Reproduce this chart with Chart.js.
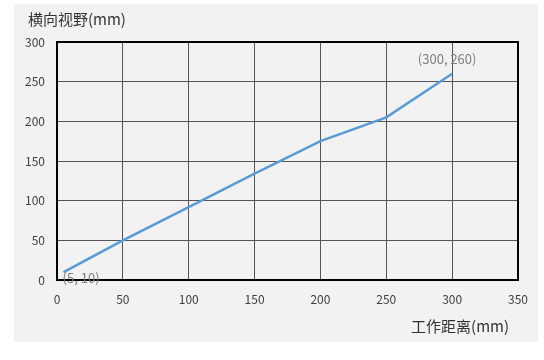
<!DOCTYPE html>
<html>
<head>
<meta charset="utf-8">
<script src="https://cdn.jsdelivr.net/npm/chart.js@4"></script>
<style>
    html, body { margin: 0; padding: 0; background: #ffffff; }
    #wrap { width: 544px; height: 360px; }
</style>
</head>
<body>
<div id="wrap"><canvas id="myChart" width="544" height="360"></canvas></div>
<script>
const ctx = document.querySelector("#myChart").getContext("2d")
const fontFamily = "'Noto Sans CJK SC', 'Noto Sans', sans-serif"

// 工作距离 (mm) -> 横向视野 (mm)
const distances = [5, 50, 100, 150, 200, 250, 300]
const fieldOfView = [10, 50, 92, 134, 175, 205, 260]
const xTicks = [0, 50, 100, 150, 200, 250, 300, 350]
const yTicks = [0, 50, 100, 150, 200, 250, 300]
const xTitle = "工作距离(mm)"
const yTitle = "横向视野(mm)"
const pointLabels = [
    { index: 0, text: "(5, 10)" },
    { index: 6, text: "(300, 260)" }
]

const points = distances.map((d, i) => ({ x: d, y: fieldOfView[i] }))

const panelPlugin = {
    id: "panel",
    beforeDraw(chart) {
        const c = chart.ctx
        c.save()
        c.fillStyle = "#f2f2f2"
        c.fillRect(14, 4, 524, 338)
        c.restore()
    },
    afterDraw(chart) {
        const c = chart.ctx
        const area = chart.chartArea
        const xs = chart.scales.x
        const ys = chart.scales.y
        c.save()
        // frame round the plot
        c.strokeStyle = "#000000"
        c.lineWidth = 2
        c.strokeRect(area.left, area.top, area.right - area.left, area.bottom - area.top)

        // titles
        c.fillStyle = "#333333"
        c.font = "15px " + fontFamily
        c.textBaseline = "middle"
        c.textAlign = "left"
        c.fillText(yTitle, 28, 19)
        c.textAlign = "right"
        c.fillText(xTitle, 509, 326)

        // point labels
        c.fillStyle = "#7f7f7f"
        c.font = "13px " + fontFamily
        pointLabels.forEach(p => {
            const px = xs.getPixelForValue(distances[p.index])
            const py = ys.getPixelForValue(fieldOfView[p.index])
            if (p.index === 0) {
                c.textAlign = "left"
                c.fillText(p.text, px - 1, py + 6)
            } else {
                c.textAlign = "center"
                c.fillText(p.text, px - 5, py - 15)
            }
        })
        c.restore()
    }
}

new Chart(ctx, {
    type: "line",
    data: {
        datasets: [{
            data: points,
            borderColor: "#5b9bd5",
            borderWidth: 2.5,
            pointRadius: 0,
            tension: 0,
            fill: false
        }]
    },
    options: {
        responsive: false,
        animation: false,
        layout: {
            padding: { top: 42, right: 26, bottom: 0, left: 0 }
        },
        plugins: {
            legend: { display: false },
            tooltip: { enabled: false }
        },
        scales: {
            x: {
                type: "linear",
                min: 0,
                max: 350,
                afterBuildTicks: scale => {
                    scale.ticks = xTicks.map(v => ({ value: v }))
                },
                afterFit: scale => { scale.height = 80 },
                grid: { color: "#555555", lineWidth: 1, drawTicks: false },
                border: { display: false },
                ticks: {
                    padding: 12,
                    color: "#404040",
                    font: { family: fontFamily, size: 12 },
                    maxRotation: 0
                }
            },
            y: {
                type: "linear",
                min: 0,
                max: 300,
                afterBuildTicks: scale => {
                    scale.ticks = yTicks.map(v => ({ value: v }))
                },
                afterFit: scale => { scale.width = 57 },
                grid: { color: "#555555", lineWidth: 1, drawTicks: false },
                border: { display: false },
                ticks: {
                    padding: 12,
                    color: "#404040",
                    font: { family: fontFamily, size: 12 }
                }
            }
        }
    },
    plugins: [panelPlugin]
})
</script>
</body>
</html>
